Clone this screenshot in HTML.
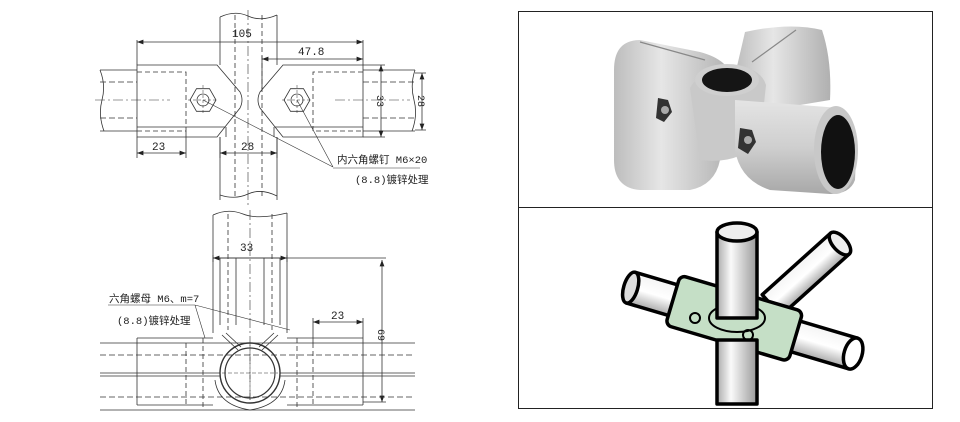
<!DOCTYPE html>
<html><head><meta charset="utf-8"><style>
html,body{margin:0;padding:0;background:#fff;}
svg{display:block;}
text{font-family:"Liberation Mono","Noto Sans CJK SC",monospace;fill:#222;}
</style></head><body>
<svg width="960" height="422" viewBox="0 0 960 422" xmlns="http://www.w3.org/2000/svg">
<defs>
<marker id="a" markerWidth="8" markerHeight="6" refX="8" refY="3" orient="auto-start-reverse"><path d="M0,0 L8,3 L0,6z" fill="#222"/></marker>
<linearGradient id="met" x1="0" y1="0" x2="0" y2="1"><stop offset="0" stop-color="#e4e4e4"/><stop offset=".5" stop-color="#cfcfcf"/><stop offset="1" stop-color="#a8a8a8"/></linearGradient>
<linearGradient id="metv" x1="0" y1="0" x2="1" y2="0"><stop offset="0" stop-color="#bdbdbd"/><stop offset=".4" stop-color="#e6e6e6"/><stop offset="1" stop-color="#b0b0b0"/></linearGradient>
<linearGradient id="tub" x1="0" y1="0" x2="1" y2="0"><stop offset="0" stop-color="#aaa"/><stop offset=".35" stop-color="#fafafa"/><stop offset="1" stop-color="#999"/></linearGradient>
<linearGradient id="tubh" x1="0" y1="0" x2="0" y2="1"><stop offset="0" stop-color="#f4f4f4"/><stop offset=".5" stop-color="#fff"/><stop offset="1" stop-color="#aaa"/></linearGradient>
</defs>
<g stroke="#333" stroke-width="0.8" fill="none">
<path d="M220,17 Q235,10 248,16 T277,15"/>
<path d="M220,17 V65 M277,15 V65 M220,137 V200 M277,137 V200"/>
<path d="M220,195 Q235,200 248,194 T277,196"/>
<path d="M235,15 V198 M262,15 V198" stroke-dasharray="5,3"/>
<path d="M248,10 V205" stroke-dasharray="10,3,2,3" stroke-width="0.6"/>
<path d="M100,70 H137 M100,131 H137 M363,70 H415 M363,131 H415"/>
<path d="M100,70 Q106,85 102,100 T104,131 M415,70 Q410,85 414,100 T412,131"/>
<path d="M100,82 H137 M100,118 H137 M363,82 H415 M363,118 H415" stroke-dasharray="6,3"/>
<path d="M95,100 H170 M335,100 H410" stroke-dasharray="10,3,2,3" stroke-width="0.6"/>
<path d="M137,65 H217 L240,92 Q244,100 240,108 L217,137 H137 Z"/>
<path d="M363,65 H283 L260,92 Q256,100 260,108 L283,137 H363 Z"/>
<path d="M137,72 H186 V131 H137 M363,72 H313 V131 H363" stroke-dasharray="5,3"/>
<path d="M137,127 H225 M363,127 H275 M226,127 V137 M274,127 V137"/>
<polygon points="216,100 209.5,111.3 196.5,111.3 190,100 196.5,88.7 209.5,88.7"/>
<circle cx="203" cy="100" r="6"/>
<polygon points="310,100 303.5,111.3 290.5,111.3 284,100 290.5,88.7 303.5,88.7"/>
<circle cx="297" cy="100" r="6"/>
<path d="M203,85 V115 M188,100 H218 M297,85 V115 M282,100 H312" stroke-dasharray="3,2" stroke-width="0.5"/>
<path d="M137,40 V65 M363,40 V65 M262,56 V90"/>
<path d="M137,42 H363" marker-start="url(#a)" marker-end="url(#a)"/>
<path d="M262,59 H363" marker-start="url(#a)" marker-end="url(#a)"/>
<path d="M363,65 H385 M363,137 H385 M415,73 H426 M415,130 H426"/>
<path d="M381,65 V137" marker-start="url(#a)" marker-end="url(#a)"/>
<path d="M422,73 V130" marker-start="url(#a)" marker-end="url(#a)"/>
<path d="M137,137 V158 M186,131 V158 M220,137 V158 M277,137 V158"/>
<path d="M137,153 H186" marker-start="url(#a)" marker-end="url(#a)"/>
<path d="M220,153 H277" marker-start="url(#a)" marker-end="url(#a)"/>
<path d="M203,100 L333,167 M297,100 L333,167 M333,168 H420" stroke-width="0.6"/>

<path d="M213,215 Q228,208 243,214 T287,213"/>
<path d="M213,215 V333 M287,213 V333"/>
<path d="M228,214 V330 M272,214 V330" stroke-dasharray="5,3"/>
<path d="M220,258 V325 M280,258 V325 M236,258 V325 M264,258 V325"/>
<path d="M250,210 V400" stroke-dasharray="10,3,2,3" stroke-width="0.6"/>
<path d="M213,258 H287"/>
<path d="M213,255 V262 M287,255 V262"/>
<path d="M213,258 H287" marker-start="url(#a)" marker-end="url(#a)"/>
<path d="M287,258 H386"/>
<path d="M382,260 V402" marker-start="url(#a)" marker-end="url(#a)"/>
<path d="M363,402 H386"/>
<path d="M100,343 H415 M100,410 H415"/>
<path d="M100,355 H415 M100,397 H415" stroke-dasharray="6,3"/>
<path d="M100,373 H220 M280,373 H415 M100,376 H220 M280,376 H415"/>
<path d="M137,338 H213 M287,338 H363 M137,338 V405 M363,338 V405 M137,405 H213 M287,405 H363"/>
<path d="M186,343 V405 M313,343 V405" stroke-dasharray="5,3"/>
<path d="M203,338 V410 M297,338 V410" stroke-dasharray="5,3"/>
<path d="M313,318 V343 M363,318 V338"/>
<path d="M313,322 H363" marker-start="url(#a)" marker-end="url(#a)"/>
<circle cx="250" cy="373" r="30" stroke-width="1.4"/>
<circle cx="250" cy="373" r="25" stroke-width="1.2"/>
<path d="M222,335 L238,350 M226,333 L241,347 M278,335 L262,350 M274,333 L259,347"/>
<path d="M215,380 Q218,405 250,410 Q282,405 285,380"/>
<path d="M250,345 V400 M222,373 H278" stroke-dasharray="4,2" stroke-width="0.5"/>
<path d="M108,305 H195 L205,338 M195,305 L290,330" stroke-width="0.6"/>
</g>
<g font-size="11">
<text x="232" y="37">105</text>
<text x="298" y="55">47.8</text>
<text x="152" y="150">23</text>
<text x="241" y="150">28</text>
<text transform="translate(377,101) rotate(90)" text-anchor="middle" font-size="10">33</text>
<text transform="translate(418,101) rotate(90)" text-anchor="middle" font-size="10">28</text>
<text x="337" y="163" font-size="10.5">内六角螺钉 M6×20</text>
<text x="355" y="183" font-size="10.5">(8.8)镀锌处理</text>
<text x="240" y="251">33</text>
<text x="331" y="319">23</text>
<text transform="translate(378,335) rotate(90)" text-anchor="middle" font-size="10">69</text>
<text x="109" y="302" font-size="10.5">六角螺母 M6、m=7</text>
<text x="117" y="324" font-size="10.5">(8.8)镀锌处理</text>
</g>

<rect x="518.5" y="11.5" width="414" height="397" fill="none" stroke="#222" stroke-width="1"/>
<line x1="518" y1="207.5" x2="933" y2="207.5" stroke="#222" stroke-width="1"/>
<!-- top photo -->
<path d="M745,32 Q790,22 822,30 Q832,60 830,100 L770,110 L735,75 Z" fill="url(#metv)"/>
<path d="M752,62 L796,30" stroke="#888" stroke-width="1.2"/>
<path d="M640,40 L700,52 Q730,60 732,80 L720,160 Q715,185 690,190 L640,190 Q614,188 614,160 L614,70 Q614,40 640,40 Z" fill="url(#metv)"/>
<path d="M640,42 L705,60" stroke="#888" stroke-width="1.2"/>
<path d="M690,88 Q700,70 730,66 Q760,66 766,85 L760,140 Q740,165 700,160 Z" fill="#c9c9c9"/>
<ellipse cx="727" cy="80" rx="32" ry="16" fill="#cfcfcf"/>
<ellipse cx="727" cy="80" rx="25" ry="12" fill="#151515"/>
<path d="M735,100 L840,108 Q858,130 855,180 Q850,194 830,194 L770,190 Q740,180 735,150 Z" fill="url(#met)"/>
<ellipse cx="836" cy="150" rx="22" ry="44" fill="#c8c8c8"/>
<ellipse cx="838" cy="152" rx="17" ry="37" fill="#111"/>
<polygon points="658,98 668,100 672,112 664,122 656,118" fill="#333"/>
<circle cx="665" cy="110" r="4" fill="#aaa"/>
<polygon points="740,128 752,130 756,142 748,154 738,148" fill="#333"/>
<circle cx="748" cy="140" r="4" fill="#aaa"/>
<!-- bottom illustration -->
<g stroke="#000" stroke-width="3.5" stroke-linejoin="round">
<g transform="rotate(-42 805 275)">
<rect x="760" y="261" width="92" height="28" fill="url(#tubh)"/>
<ellipse cx="852" cy="275" rx="7" ry="14" fill="#eee"/>
</g>
<g transform="rotate(16.5 740 320)">
<rect x="626" y="304" width="232" height="32" fill="url(#tubh)"/>
<ellipse cx="626" cy="320" rx="7" ry="16" fill="#ddd"/>
<ellipse cx="858" cy="320" rx="9" ry="16" fill="#fff"/>
<rect x="670" y="294" width="128" height="52" rx="6" fill="#c5dfc6"/>
</g>
<rect x="717" y="340" width="40" height="64" fill="url(#tub)"/>
<ellipse cx="737" cy="318" rx="28" ry="14" fill="#c5dfc6" stroke-width="2"/>
<rect x="717" y="232" width="40" height="86" fill="url(#tub)"/>
<ellipse cx="737" cy="232" rx="20" ry="9" fill="#eee"/>
</g>
<circle cx="695" cy="318" r="5" fill="none" stroke="#000" stroke-width="2"/>
<circle cx="748" cy="335" r="5" fill="none" stroke="#000" stroke-width="2"/>
</svg>
</body></html>
